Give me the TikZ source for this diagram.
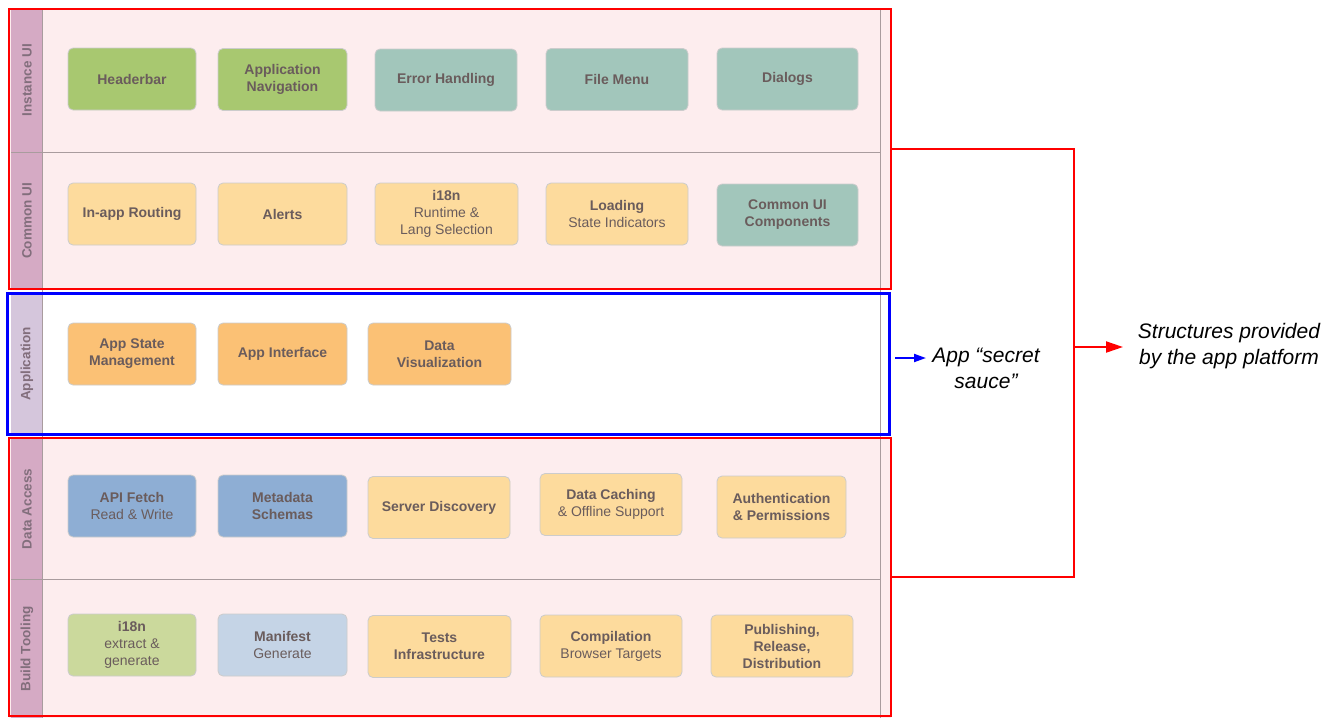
\documentclass[tikz,border=0pt]{standalone}
\usepackage{fontspec}
\setmainfont{Liberation Sans}
\usetikzlibrary{calc,arrows.meta}

\definecolor{pinkbg}{HTML}{FDEDEE}
\definecolor{lanecol}{HTML}{D5AAC4}
\definecolor{appcol}{HTML}{D5C6DC}
\definecolor{laneline}{HTML}{A99C9E}
\definecolor{cgreen}{HTML}{A8C870}
\definecolor{clgreen}{HTML}{CBD99C}
\definecolor{cteal}{HTML}{A2C6BB}
\definecolor{cyellow}{HTML}{FDDB9D}
\definecolor{corange}{HTML}{FBC175}
\definecolor{cblue}{HTML}{8EAED4}
\definecolor{clblue}{HTML}{C5D4E6}
\definecolor{txt}{HTML}{6A5C5C}
\definecolor{lbltxt}{HTML}{826E7C}
\definecolor{redline}{HTML}{FF0000}
\definecolor{blueline}{HTML}{0000FF}

\tikzset{
  box/.style={draw=black!20, line width=0.8pt, rounded corners=5pt, align=center,
    text=txt, inner sep=2pt, minimum height=62,
    font=\fontsize{14}{17}\selectfont},
  lanelabel/.style={rotate=90, text=lbltxt, font=\fontsize{13.5}{15}\selectfont\bfseries},
  redframe/.style={draw=redline, line width=2.4pt, inner sep=0pt},
  blueframe/.style={draw=blueline, line width=3.4pt, inner sep=0pt},
  note/.style={align=center, font=\fontsize{21}{26}\selectfont\itshape},
}

\begin{document}
\begin{tikzpicture}[x=1pt,y=-1pt]
\useasboundingbox (0,0) rectangle (1338,718);
\fill[white] (0,0) rectangle (1338,718);

% tinted areas of the platform layers
\fill[pinkbg] (9,9) rectangle (891,289);
\fill[pinkbg] (9,438) rectangle (891,718);

% lane label column
\fill[lanecol] (11,10) rectangle (42,289);
\fill[appcol] (11,293) rectangle (42,435);
\fill[lanecol] (11,439) rectangle (42,718);

% lane separators
\draw[laneline, line width=0.9pt] (42,10) -- (42,718);
\draw[laneline, line width=0.9pt] (880,10) -- (880,718);
\draw[laneline, line width=0.9pt] (11,152) -- (880,152);
\draw[laneline, line width=0.9pt] (11,579) -- (880,579);

% lane labels
\node[lanelabel] (lInst) at (27,80) {Instance UI};
\node[lanelabel] (lCommon) at (27,221) {Common UI};
\node[lanelabel] (lApp) at (27,364) {Application};
\node[lanelabel] (lData) at (27,509) {Data Access};
\node[lanelabel] (lBuild) at (27,649) {Build Tooling};

% Instance UI
\node[box, fill=cgreen, minimum width=128] (hdr) at (132,79) {\textbf{Headerbar}};
\node[box, fill=cgreen, minimum width=129] (nav) at (282.5,79.5) {\textbf{Application}\\\textbf{Navigation}};
\node[box, fill=cteal, minimum width=142] (err) at (446,80) {\textbf{Error Handling}};
\node[box, fill=cteal, minimum width=142] (file) at (617,79.5) {\textbf{File Menu}};
\node[box, fill=cteal, minimum width=141] (dlg) at (787.5,79) {\textbf{Dialogs}};

% Common UI
\node[box, fill=cyellow, minimum width=128] (route) at (132,214) {\textbf{In-app Routing}};
\node[box, fill=cyellow, minimum width=129] (alert) at (282.5,214) {\textbf{Alerts}};
\node[box, fill=cyellow, minimum width=143] (i18nrt) at (446.5,214) {\textbf{i18n}\\Runtime \&\\Lang Selection};
\node[box, fill=cyellow, minimum width=142] (load) at (617,214) {\textbf{Loading}\\State Indicators};
\node[box, fill=cteal, minimum width=141] (cuic) at (787.5,215) {\textbf{Common UI}\\\textbf{Components}};

% Application
\node[box, fill=corange, minimum width=128] (state) at (132,354) {\textbf{App State}\\\textbf{Management}};
\node[box, fill=corange, minimum width=129] (iface) at (282.5,354) {\textbf{App Interface}};
\node[box, fill=corange, minimum width=143] (viz) at (439.5,354) {\textbf{Data}\\\textbf{Visualization}};

% Data Access
\node[box, fill=cblue, minimum width=128] (fetch) at (132,506) {\textbf{API Fetch}\\Read \& Write};
\node[box, fill=cblue, minimum width=129] (meta) at (282.5,506) {\textbf{Metadata}\\\textbf{Schemas}};
\node[box, fill=cyellow, minimum width=142] (disc) at (439,507.5) {\textbf{Server Discovery}};
\node[box, fill=cyellow, minimum width=142] (cache) at (611,504.5) {\textbf{Data Caching}\\\& Offline Support};
\node[box, fill=cyellow, minimum width=129] (auth) at (781.5,507) {\textbf{Authentication}\\\textbf{\& Permissions}};

% Build Tooling
\node[box, fill=clgreen, minimum width=128] (i18nx) at (132,645) {\textbf{i18n}\\extract \&\\generate};
\node[box, fill=clblue, minimum width=129] (mani) at (282.5,645) {\textbf{Manifest}\\Generate};
\node[box, fill=cyellow, minimum width=143] (tests) at (439.5,646.5) {\textbf{Tests}\\\textbf{Infrastructure}};
\node[box, fill=cyellow, minimum width=142] (comp) at (611,646) {\textbf{Compilation}\\Browser Targets};
\node[box, fill=cyellow, minimum width=142] (pub) at (782,646) {\textbf{Publishing,}\\\textbf{Release,}\\\textbf{Distribution}};

% layer frames
\node[redframe, minimum width=882, minimum height=280] (redTop) at (450,149) {};
\node[blueframe, minimum width=882, minimum height=141] (blueApp) at (448.5,364) {};
\node[redframe, minimum width=882, minimum height=278] (redBot) at (450,577) {};

% annotations
\node[note] (sauce) at (986,368) {App “secret\\sauce”};
\node[note] (plat) at (1229,346.5) {Structures provided\\by the app platform};

\coordinate (br) at (1074,347);
\coordinate (sauceIn) at (926,358);

\draw[redline, line width=2pt] (redTop.east) -| (br) |- (redBot.east);
\draw[redline, line width=2pt, -{Triangle[length=17pt,width=11pt]}] (br) -- (1123,347);
\draw[blueline, line width=2pt, -{Triangle[length=12pt,width=8pt]}] ($(blueApp.east)+(4,-6)$) -- (sauceIn);
\end{tikzpicture}
\end{document}
